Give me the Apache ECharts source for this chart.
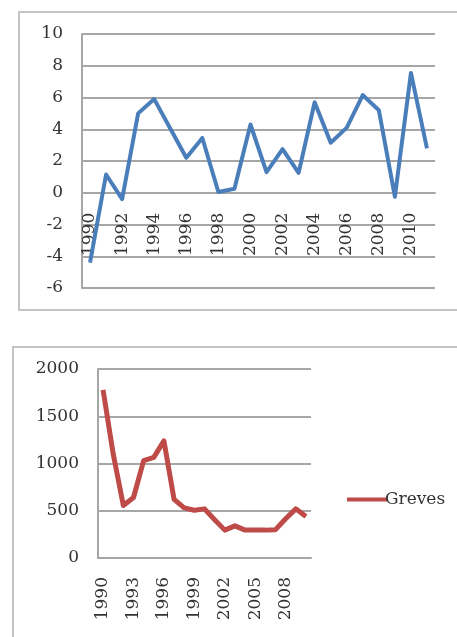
<!DOCTYPE html>
<html>
<head>
<meta charset="utf-8">
<script src="https://cdn.jsdelivr.net/npm/echarts@6/dist/echarts.min.js"></script>
<style>
  html, body { margin: 0; padding: 0; background: #fff; }
  #chart { width: 457px; height: 637px; }
</style>
</head>
<body>
<div id="chart"></div>
<script>
// top chart: yearly values 1990-2011
const topYears = ['1990', '1991', '1992', '1993', '1994', '1995', '1996', '1997', '1998', '1999', '2000',
  '2001', '2002', '2003', '2004', '2005', '2006', '2007', '2008', '2009', '2010', '2011']
const topValues = [-4.4, 1.15, -0.4, 5.0, 5.9, 4.05, 2.2, 3.45, 0.05, 0.25, 4.3,
  1.3, 2.75, 1.25, 5.7, 3.15, 4.1, 6.15, 5.2, -0.25, 7.55, 2.8]
const topTicks = { min: -6, max: 10, step: 2 }

// bottom chart: Greves 1990-2010
const grevesYears = ['1990', '1991', '1992', '1993', '1994', '1995', '1996', '1997', '1998', '1999', '2000',
  '2001', '2002', '2003', '2004', '2005', '2006', '2007', '2008', '2009', '2010']
const grevesValues = [1780, 1100, 555, 640, 1030, 1065, 1240, 620, 530, 505, 520,
  405, 295, 340, 295, 295, 295, 300, 415, 520, 440]
const grevesTicks = { min: 0, max: 2000, step: 500 }

const chart = echarts.init(document.getElementById('chart'))

const labelFont = {
  fontFamily: 'DejaVu Serif',
  fontSize: 17,
  color: '#333'
}
const gridColor = '#a6a6a6'

// top grid: 254px tall for 16 units, so zero sits 6 units above the bottom
const topGridH = 254
const zeroShift = topGridH * (0 - topTicks.min) / (topTicks.max - topTicks.min)

const option = {
  animation: false,
  backgroundColor: '#fff',
  graphic: [
    {
      type: 'rect',
      shape: { x: 19, y: 12, width: 460, height: 298 },
      style: { fill: 'none', stroke: '#c4c4c4', lineWidth: 2 },
      silent: true
    },
    {
      type: 'rect',
      shape: { x: 13, y: 347, width: 460, height: 310 },
      style: { fill: 'none', stroke: '#c4c4c4', lineWidth: 2 },
      silent: true
    }
  ],
  legend: {
    left: 342,
    top: 486,
    icon: 'rect',
    itemWidth: 40,
    itemHeight: 4,
    itemGap: 4,
    data: ['Greves'],
    textStyle: Object.assign({}, labelFont, { padding: [0, 0, 0, -7] })
  },
  grid: [
    { left: 82, top: 34, width: 353, height: topGridH },
    { left: 98, top: 369, width: 213, height: 189 }
  ],
  xAxis: [
    {
      type: 'category',
      gridIndex: 0,
      data: topYears,
      boundaryGap: true,
      position: 'bottom',
      offset: -zeroShift,
      axisLine: { onZero: false, lineStyle: { color: gridColor, width: 2 } },
      axisTick: { show: false },
      axisLabel: Object.assign({}, labelFont, { rotate: 90, interval: 1, margin: 20 })
    },
    {
      type: 'category',
      gridIndex: 1,
      data: grevesYears,
      boundaryGap: true,
      axisLine: { lineStyle: { color: gridColor, width: 2 } },
      axisTick: { show: false },
      axisLabel: Object.assign({}, labelFont, { rotate: 90, interval: 2, margin: 19 })
    }
  ],
  yAxis: [
    {
      type: 'value',
      gridIndex: 0,
      min: topTicks.min,
      max: topTicks.max,
      interval: topTicks.step,
      axisLine: { show: true, lineStyle: { color: gridColor, width: 2 } },
      axisTick: { show: false },
      splitLine: { lineStyle: { color: gridColor, width: 2 } },
      axisLabel: Object.assign({}, labelFont, { margin: 19, formatter: v => String(v) })
    },
    {
      type: 'value',
      gridIndex: 1,
      min: grevesTicks.min,
      max: grevesTicks.max,
      interval: grevesTicks.step,
      axisLine: { show: true, lineStyle: { color: gridColor, width: 2 } },
      axisTick: { show: false },
      splitLine: { lineStyle: { color: gridColor, width: 2 } },
      axisLabel: Object.assign({}, labelFont, { margin: 19, formatter: v => String(v) })
    }
  ],
  series: [
    {
      name: 'top',
      type: 'line',
      xAxisIndex: 0,
      yAxisIndex: 0,
      data: topValues,
      symbol: 'none',
      lineStyle: { color: '#4a7ebb', width: 4, join: 'round' },
      itemStyle: { color: '#4a7ebb' }
    },
    {
      name: 'Greves',
      type: 'line',
      xAxisIndex: 1,
      yAxisIndex: 1,
      data: grevesValues,
      symbol: 'none',
      lineStyle: { color: '#be4b48', width: 5, join: 'round' },
      itemStyle: { color: '#be4b48' }
    }
  ]
}

chart.setOption(option)
</script>
</body>
</html>
